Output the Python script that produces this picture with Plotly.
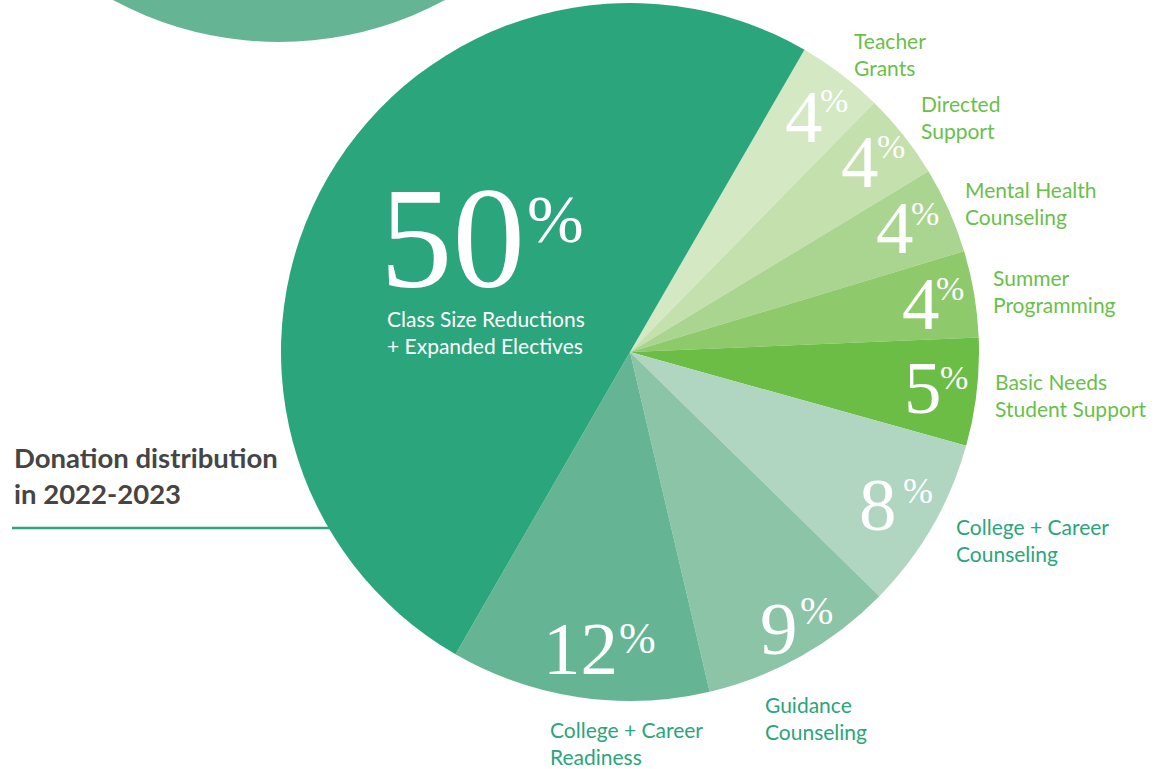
import plotly.graph_objects as go

W, H = 1168, 769

# ---- data ----
categories = [
    "Teacher Grants", "Directed Support", "Mental Health Counseling",
    "Summer Programming", "Basic Needs Student Support",
    "College + Career Counseling", "Guidance Counseling",
    "College + Career Readiness", "Class Size Reductions + Expanded Electives",
]
label_lines = [
    "Teacher<br>Grants", "Directed<br>Support", "Mental Health<br>Counseling",
    "Summer<br>Programming", "Basic Needs<br>Student Support",
    "College + Career<br>Counseling", "Guidance<br>Counseling",
    "College + Career<br>Readiness", "Class Size Reductions<br>+ Expanded Electives",
]
values = [4, 4, 4, 4, 5, 8, 9, 12, 50]

colors = ["#d3e8c3", "#c3e0ad", "#a9d590", "#8ec96b", "#6bbd45",
          "#b0d5c1", "#8cc4a8", "#65b594", "#2aa57c"]
label_colors = ["#6abf4b"] * 5 + ["#2aa57c"] * 3 + ["#ffffff"]

# ---- layout helpers (pixel -> paper) ----
def px(x):
    return x / W

def py(y):
    return 1 - y / H

cx, cy, R = 630, 352, 349

fig = go.Figure()
fig.add_trace(go.Pie(
    labels=categories, values=values, sort=False, direction="clockwise",
    rotation=30, marker=dict(colors=colors, line=dict(width=0)),
    textinfo="none", hoverinfo="label+percent", showlegend=False,
    domain=dict(x=[px(cx - R), px(cx + R)], y=[max(0, py(cy + R)), min(1, py(cy - R))]),
))

# positions: (digit center x,y), (percent sign center x,y), (label block x,y)
num_pos = [(804, 117), (860, 162), (895, 227), (921, 304), (923, 387),
           (878, 505), (779, 628), (580, 648), (452, 238)]
pct_pos = [(834, 101), (891, 146), (925, 213), (950, 289), (954, 377),
           (918, 491), (816, 610), (637, 638), (555, 219)]
lab_pos = [(852, 54), (919, 117), (963, 203), (991, 291), (993, 395),
           (954, 540), (763, 718), (548, 743), (385, 332)]
num_size = [75] * 8 + [145]
pct_size = [34, 34, 34, 34, 34, 36, 40, 44, 68]

serif = "Liberation Serif, Times New Roman, serif"
sans = "Lato, Open Sans, sans-serif"

ann = []
for i, v in enumerate(values):
    ann.append(dict(x=px(num_pos[i][0]), y=py(num_pos[i][1]), text=str(v),
                    xanchor="center", yanchor="middle", showarrow=False,
                    font=dict(family=serif, size=num_size[i], color="white")))
    ann.append(dict(x=px(pct_pos[i][0]), y=py(pct_pos[i][1]), text="%",
                    xanchor="center", yanchor="middle", showarrow=False,
                    font=dict(family=serif, size=pct_size[i], color="white")))
    ann.append(dict(x=px(lab_pos[i][0]), y=py(lab_pos[i][1]), text=label_lines[i],
                    xanchor="left", yanchor="middle", align="left", showarrow=False,
                    font=dict(family=sans, size=21, color=label_colors[i])))

ann.append(dict(x=px(12), y=py(475), text="<b>Donation distribution<br>in 2022-2023</b>",
                xanchor="left", yanchor="middle", align="left", showarrow=False,
                font=dict(family=sans, size=27.5, color="#454545")))

shapes = [
    dict(type="circle", xref="paper", yref="paper",
         x0=px(279 - 349), x1=px(279 + 349), y0=py(-307 + 349), y1=py(-307 - 349),
         fillcolor="#65b594", line=dict(width=0), layer="below"),
    dict(type="line", xref="paper", yref="paper",
         x0=px(12), x1=px(340), y0=py(528), y1=py(528),
         line=dict(color="#2aa57c", width=2.5), layer="below"),
]

fig.update_layout(
    width=W, height=H, margin=dict(l=0, r=0, t=0, b=0),
    paper_bgcolor="white", plot_bgcolor="white",
    annotations=ann, shapes=shapes,
)

fig.write_html(
    "out.html",
    config={"displayModeBar": False},
    post_script="document.body.style.margin='0';document.body.style.overflow='hidden';",
)
